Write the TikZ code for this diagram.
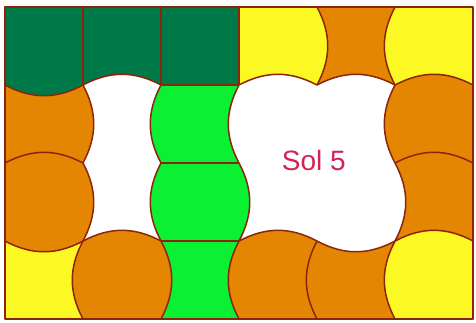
\documentclass[tikz,border=0pt]{standalone}
\usepackage{fontspec}
\setmainfont{Liberation Sans}
\definecolor{dkgreen}{RGB}{0,121,72}
\definecolor{tilegrn}{RGB}{10,240,50}
\definecolor{tileorg}{RGB}{229,134,2}
\definecolor{tileyel}{RGB}{252,248,36}
\definecolor{rimred}{RGB}{140,36,12}
\definecolor{solred}{RGB}{205,38,86}
\begin{document}
\begin{tikzpicture}[x=78pt, y=78pt, line join=round]
  \tikzset{rim/.style={draw=rimred, line width=1.5pt}}
  \useasboundingbox (-0.064,-0.038) rectangle (6.038,4.09);

  \foreach \y/\cols in {3/{dkgreen,dkgreen,dkgreen,tileyel,tileorg,tileyel},
                        2/{tileorg,white,tilegrn,white,white,tileorg},
                        1/{tileorg,white,tilegrn,white,white,tileorg},
                        0/{tileyel,tileorg,tilegrn,tileorg,tileorg,tileyel}}
    \foreach \col [count=\x from 0] in \cols
      \fill[\col] (\x,\y) rectangle ++(1,1);

  \def\vedges{1/4/0/none, 2/4/0/none, 3/4/0/none, 4/4/28/tileyel, 5/4/-28/tileyel,
    1/3/28/tileorg, 2/3/-28/tilegrn, 3/3/-28/white, 5/3/-28/tileorg,
    1/2/28/tileorg, 2/2/-28/tilegrn, 3/2/28/tilegrn, 5/2/28/white,
    1/1/-28/tileorg, 2/1/28/tileorg, 3/1/-28/tileorg, 4/1/-28/tileorg, 5/1/-28/tileyel}
  \def\hedges{0/3/-28/dkgreen, 1/3/28/white, 2/3/0/none, 3/3/28/white, 4/3/28/white, 5/3/28/tileorg,
    0/2/28/tileorg, 2/2/0/none, 5/2/28/tileorg,
    0/1/-28/tileorg, 1/1/28/tileorg, 2/1/0/none, 3/1/28/tileorg, 4/1/-28/white, 5/1/28/tileyel}

  \foreach \x/\y/\a/\col in \vedges
    \fill[fill=\col] (\x,\y) to[bend left=\a] (\x,\y-1) -- cycle;
  \foreach \x/\y/\a/\col in \hedges
    \fill[fill=\col] (\x,\y) to[bend left=\a] (\x+1,\y) -- cycle;

  \foreach \x/\y/\a/\col in \vedges
    \draw[rim] (\x,\y) to[bend left=\a] (\x,\y-1);
  \foreach \x/\y/\a/\col in \hedges
    \draw[rim] (\x,\y) to[bend left=\a] (\x+1,\y);

  \draw[rim] (0,0) rectangle (6,4);
  \node[text=solred, font=\fontsize{28}{32}\selectfont] (sol) at (3.96,2.03) {Sol 5};
\end{tikzpicture}
\end{document}
